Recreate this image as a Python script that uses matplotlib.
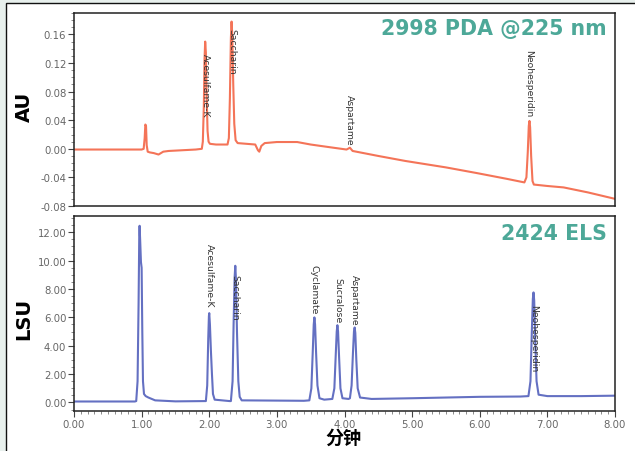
import matplotlib
matplotlib.use("Agg")
import matplotlib.pyplot as plt
from matplotlib.ticker import FormatStrFormatter, AutoMinorLocator
from matplotlib.patches import Rectangle

# ---------------- data ----------------
pda_time = [0.00, 1.00, 1.03, 1.045, 1.055, 1.065, 1.075, 1.09, 1.12, 1.18, 1.25, 1.32, 1.40, 1.80, 1.89,
            1.905, 1.92, 1.93, 1.94, 1.95, 1.96, 1.975, 1.99, 2.01, 2.10,
            2.27, 2.29, 2.305, 2.32, 2.33, 2.34, 2.355, 2.37, 2.39, 2.42, 2.55,
            2.68, 2.72, 2.74, 2.77, 2.82, 3.00, 3.30, 3.50, 3.80, 4.03, 4.08, 4.12,
            4.50, 4.90, 5.50, 5.96, 6.40, 6.66, 6.69, 6.71, 6.725, 6.735, 6.745, 6.76, 6.78, 6.80,
            7.00, 7.24, 7.60, 8.00]
pda_au = [-0.001, -0.001, 0.000, 0.015, 0.034, 0.032, 0.005, -0.004, -0.005, -0.006, -0.008, -0.004, -0.003, -0.001, 0.000,
          0.010, 0.060, 0.125, 0.150, 0.135, 0.080, 0.025, 0.010, 0.007, 0.006,
          0.006, 0.015, 0.070, 0.155, 0.178, 0.160, 0.090, 0.035, 0.012, 0.008, 0.007,
          0.006, -0.002, -0.004, 0.004, 0.008, 0.0095, 0.0095, 0.006, 0.002, -0.001, 0.0015, -0.003,
          -0.010, -0.017, -0.026, -0.034, -0.042, -0.047, -0.040, -0.005, 0.032, 0.039, 0.030, -0.010, -0.045, -0.050,
          -0.052, -0.054, -0.061, -0.070]

els_time = [0.00, 0.90, 0.92, 0.94, 0.955, 0.965, 0.97, 0.978, 0.99, 1.00, 1.01, 1.02, 1.035, 1.06, 1.10,
            1.20, 1.50, 1.95,
            1.97, 1.985, 1.995, 2.00, 2.01, 2.025, 2.04, 2.055, 2.08, 2.30,
            2.32, 2.345, 2.36, 2.375, 2.385, 2.395, 2.41, 2.43, 2.45, 2.48, 3.40,
            3.48, 3.51, 3.53, 3.545, 3.555, 3.565, 3.58, 3.60, 3.63, 3.70, 3.82,
            3.85, 3.87, 3.885, 3.895, 3.905, 3.92, 3.94, 3.97, 4.06,
            4.08, 4.105, 4.125, 4.14, 4.15, 4.16, 4.175, 4.195, 4.23, 4.40,
            5.00, 5.50, 6.00, 6.60, 6.72,
            6.75, 6.77, 6.785, 6.795, 6.805, 6.82, 6.84, 6.87, 7.00, 7.50, 8.00]
els_lsu = [0.07, 0.07, 0.10, 1.50, 7.00, 11.80, 12.46, 11.50, 9.90, 9.50, 5.00, 1.50, 0.60, 0.45, 0.35,
           0.15, 0.08, 0.10,
           1.20, 4.50, 6.10, 6.30, 5.50, 3.60, 2.00, 0.60, 0.20, 0.10,
           0.10, 1.50, 5.50, 8.80, 9.64, 8.70, 5.00, 1.50, 0.40, 0.15, 0.12,
           0.15, 1.00, 3.50, 5.50, 6.00, 5.50, 3.50, 1.20, 0.30, 0.20, 0.25,
           1.00, 3.30, 5.00, 5.45, 5.00, 3.20, 1.00, 0.30, 0.25,
           0.30, 1.20, 3.50, 5.00, 5.29, 4.90, 3.00, 1.00, 0.35, 0.25,
           0.30, 0.35, 0.40, 0.42, 0.45,
           1.50, 5.00, 7.30, 7.76, 7.20, 4.50, 1.50, 0.55, 0.45, 0.45, 0.48]

pda_labels = ["Acesulfame-K", "Saccharin", "Aspartame", "Neohesperidin"]
pda_label_t = [1.94, 2.33, 4.08, 6.73]
pda_label_top = [0.134, 0.169, 0.076, 0.139]

els_labels = ["Acesulfame-K", "Saccharin", "Cyclamate", "Sucralose", "Aspartame", "Neohesperidin"]
els_label_t = [2.00, 2.385, 3.555, 3.895, 4.15, 6.795]
els_label_top = [11.22, 9.05, 9.76, 8.82, 9.05, 6.94]

x_ticks = [0, 1, 2, 3, 4, 5, 6, 7, 8]
pda_yticks = [-0.08, -0.04, 0.00, 0.04, 0.08, 0.12, 0.16]
els_yticks = [0, 2, 4, 6, 8, 10, 12]

# ---------------- figure ----------------
W, H = 635, 452
fig = plt.figure(figsize=(W / 100, H / 100), dpi=100, facecolor="#e8f0ed")
fig.patches.append(Rectangle((6 / W, -0.01), 1.0, 1 - 4 / H + 0.01, transform=fig.transFigure,
                             facecolor="white", edgecolor="#111111", linewidth=1.0, zorder=-10))

ax1 = fig.add_axes([74 / W, 1 - 207 / H, 541 / W, 193 / H])
ax2 = fig.add_axes([74 / W, 1 - 412 / H, 541 / W, 195 / H])

tick_col = "#666666"
for ax in (ax1, ax2):
    ax.set_facecolor("white")
    for s in ax.spines.values():
        s.set_color("#222222")
        s.set_linewidth(1.1)
    ax.set_xlim(0, 8)
    ax.tick_params(axis="both", which="major", length=4, width=0.8, color="#444444",
                   labelsize=7.3, labelcolor=tick_col, pad=1.5, direction="out")
    ax.tick_params(axis="both", which="minor", length=2, width=0.6, color="#777777", direction="out")
    ax.yaxis.set_minor_locator(AutoMinorLocator(4))

ax1.plot(pda_time, pda_au, color="#f47458", linewidth=1.5, solid_joinstyle="round")
ax1.set_ylim(-0.08, 0.19)
ax1.set_yticks(pda_yticks)
ax1.yaxis.set_major_formatter(FormatStrFormatter("%.2f"))
ax1.set_xticks([])
ax1.tick_params(axis="x", which="both", bottom=False, labelbottom=False)

ax2.plot(els_time, els_lsu, color="#6470c2", linewidth=1.5, solid_joinstyle="round")
ax2.set_ylim(-0.6, 13.15)
ax2.set_yticks(els_yticks)
ax2.yaxis.set_major_formatter(FormatStrFormatter("%.2f"))
ax2.set_xticks(x_ticks)
ax2.xaxis.set_major_formatter(FormatStrFormatter("%.2f"))
ax2.xaxis.set_minor_locator(AutoMinorLocator(10))

lab_kw = dict(rotation=270, ha="center", va="top", fontsize=6.7, color="#333333")
for name, t, top in zip(pda_labels, pda_label_t, pda_label_top):
    ax1.text(t, top, name, **lab_kw)
for name, t, top in zip(els_labels, els_label_t, els_label_top):
    ax2.text(t, top, name, **lab_kw)

teal = "#4da898"
ax1.text(0.985, 0.922, "2998 PDA @225 nm", transform=ax1.transAxes, ha="right", va="center",
         fontsize=14.8, fontweight="bold", color=teal)
ax2.text(0.985, 0.913, "2424 ELS", transform=ax2.transAxes, ha="right", va="center",
         fontsize=14.8, fontweight="bold", color=teal)

fig.text(24 / W, 1 - 107 / H, "AU", rotation=90, ha="center", va="center",
         fontsize=14, fontweight="bold", color="black")
fig.text(24 / W, 1 - 319 / H, "LSU", rotation=90, ha="center", va="center",
         fontsize=14, fontweight="bold", color="black")
fig.text(343 / W, 1 - 438 / H, "分钟", ha="center", va="center", fontsize=13, fontweight="bold",
         color="black", family=["Noto Sans CJK SC", "DejaVu Sans"])

fig.savefig("out.png", dpi=100, facecolor=fig.get_facecolor())
